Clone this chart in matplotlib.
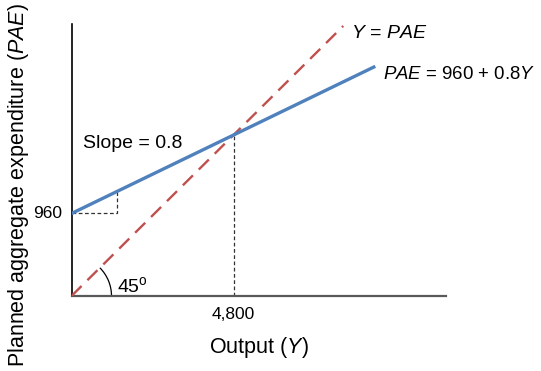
import matplotlib.pyplot as plt
from matplotlib.patches import Arc

plt.rcParams['font.family'] = ['Liberation Sans', 'DejaVu Sans']
plt.rcParams['mathtext.fontset'] = 'custom'
plt.rcParams['mathtext.rm'] = 'Liberation Sans'
plt.rcParams['mathtext.it'] = 'Liberation Sans:italic'

# schematic values (drawn units; the intercept is exaggerated as in the picture)
equilibrium = 4800
intercept_drawn = 2460
slope_drawn = (equilibrium - intercept_drawn) / equilibrium
pae_x = [0, equilibrium, 9000]
pae_y = [intercept_drawn + slope_drawn * x for x in pae_x]
diag_x = [0, equilibrium, 8050]
diag_y = diag_x
step_x = 1360

fig = plt.figure(figsize=(5.41, 3.71), dpi=100)
ax = fig.add_axes([71.5 / 541, 75 / 371, 374 / 541, 272 / 371])
ax.set_xlim(0, 11080)
ax.set_ylim(0, 8110)

for s in ['top', 'right']:
    ax.spines[s].set_visible(False)
ax.spines['left'].set_color('black')
ax.spines['bottom'].set_color('#595959')
ax.spines['left'].set_linewidth(1.2)
ax.spines['bottom'].set_linewidth(1.6)
ax.set_xticks([])
ax.set_yticks([])

ax.plot(diag_x, diag_y, color='#C0504D', lw=1.7, dashes=(6, 3.5), zorder=3)
ax.plot(pae_x, pae_y, color='#4F81BD', lw=2.4, zorder=4, solid_capstyle='butt')

# dashed guides
ax.plot([equilibrium, equilibrium], [0, equilibrium], color='#333333', lw=0.9,
        dashes=(3, 2), zorder=2)
ax.plot([0, step_x, step_x], [intercept_drawn, intercept_drawn, intercept_drawn + slope_drawn * step_x],
        color='#333333', lw=0.9, dashes=(3, 2), zorder=2)

# 45 degree arc
r = 40
ax.add_patch(Arc((0, 0), 2 * r * 29.63, 2 * r * 29.81, theta1=0, theta2=45,
                 color='black', lw=0.9))
ax.text(1350, 120, '45$^{\\rm o}$', fontsize=14, va='baseline', ha='left')

ax.text(equilibrium, -330, '4,800', fontsize=12.5, ha='center', va='top')
ax.text(-280, intercept_drawn, '960', fontsize=12.5, ha='right', va='center')
ax.text(340, 4560, 'Slope = 0.8', fontsize=14, ha='left', va='center')
ax.text(8280, 7840, '$\\it{Y}$ = $\\it{PAE}$', fontsize=14, ha='left', va='center')
ax.text(9230, 6590, '$\\it{PAE}$ = 960 + 0.8$\\it{Y}$', fontsize=13.4, ha='left', va='center')

ax.set_xlabel('Output ($\\it{Y}$)', fontsize=15.5, labelpad=28)
fig.text(0.012, 0.5, 'Planned aggregate expenditure ($\\it{PAE}$)', rotation=90,
         fontsize=15.5, ha='left', va='center')

fig.savefig('out.png', dpi=100)
